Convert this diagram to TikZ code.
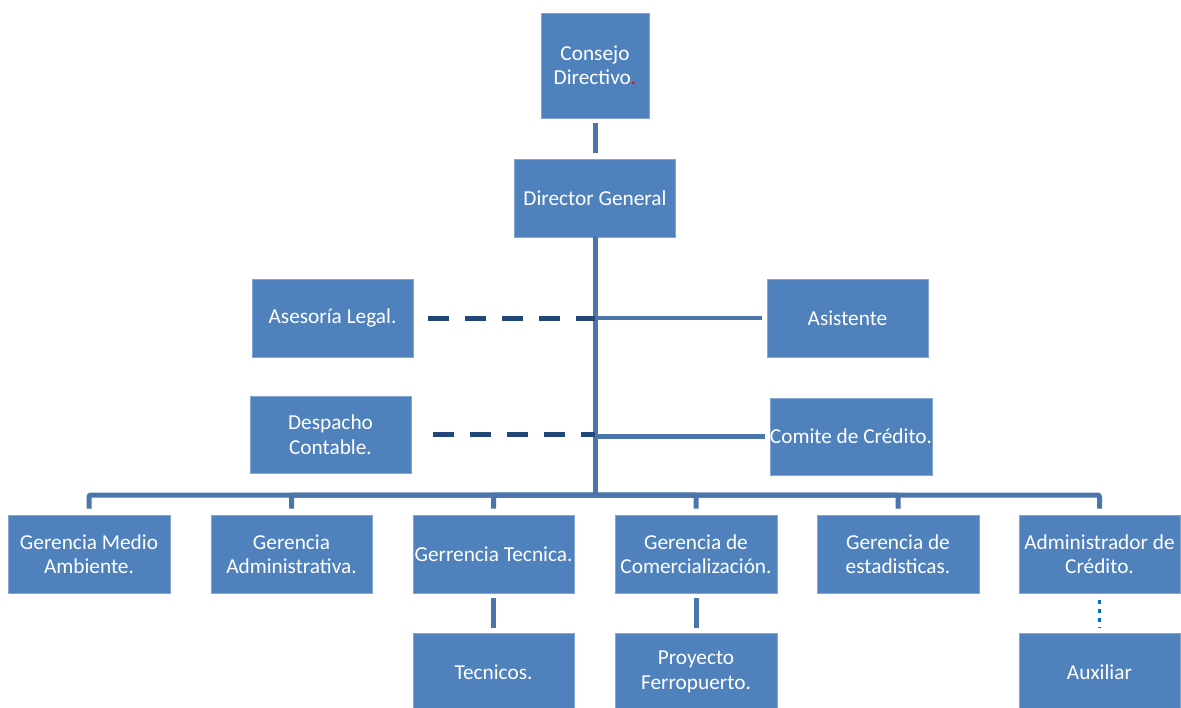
\documentclass[tikz,border=0pt]{standalone}
\usepackage{fontspec}
\setmainfont{Carlito}
\definecolor{boxblue}{RGB}{79,129,189}
\definecolor{linkblue}{RGB}{74,118,172}
\definecolor{navy}{RGB}{36,71,122}
\definecolor{dotblue}{RGB}{0,112,192}
\begin{document}
\begin{tikzpicture}[x=1pt,y=-1pt,
  box/.style={fill=boxblue,draw=boxblue!70!white,line width=0.6pt,text=white,align=center,
    inner sep=0pt,font=\fontsize{21.3}{24.5}\selectfont},
  conn/.style={draw=linkblue,line width=5pt,rounded corners=2pt},
  dashlink/.style={draw=navy,line width=5pt,dash pattern=on 21pt off 16pt},
  dotlink/.style={draw=dotblue,line width=3pt,dash pattern=on 4pt off 5pt}]
\useasboundingbox (0,0) rectangle (1181,707);
% top of the chart
\node[box,minimum width=108pt,minimum height=105pt] (cd) at (595,65.5) {Consejo\\Directivo{\color{red}.}};
\node[box,minimum width=161pt,minimum height=78pt] (dg) at (595,198) {Director General};
% staff units
\node[box,minimum width=161pt,minimum height=78pt] (al) at (332.5,318) {Asesoría Legal.};
\node[box,minimum width=161pt,minimum height=78pt] (as) at (847.5,318) {Asistente};
\node[box,minimum width=161pt,minimum height=77pt] (dc) at (330.5,434.5) {Despacho\\Contable.};
\node[box,minimum width=162pt,minimum height=77pt] (cc) at (851,436.5) {Comite de Crédito.};
% management row
\node[box,minimum width=162pt,minimum height=78pt] (g1) at (89,554) {Gerencia Medio\\Ambiente.};
\node[box,minimum width=161pt,minimum height=78pt] (g2) at (291.5,554) {Gerencia\\Administrativa.};
\node[box,minimum width=161pt,minimum height=78pt] (g3) at (493.5,554) {Gerrencia Tecnica.};
\node[box,minimum width=162pt,minimum height=78pt] (g4) at (696,554) {Gerencia de\\Comercialización.};
\node[box,minimum width=162pt,minimum height=78pt] (g5) at (898,554) {Gerencia de\\estadisticas.};
\node[box,minimum width=161pt,minimum height=78pt] (g6) at (1099.5,554) {Administrador de\\Crédito.};
% lower level (runs off the bottom edge of the page)
\node[box,minimum width=161pt,minimum height=78pt] (t) at (493.5,672) {Tecnicos.};
\node[box,minimum width=162pt,minimum height=78pt] (p) at (696,672) {Proyecto\\Ferropuerto.};
\node[box,minimum width=161pt,minimum height=78pt] (ax) at (1099.5,672) {Auxiliar};
\coordinate (bus) at (595,495);
% connectors
\draw[conn,shorten <=5pt,shorten >=6pt] (cd.south) -- (dg.north);
\draw[conn] (dg.south) -- (bus);
\foreach \g in {g1,g2,g3,g4,g5,g6}
  \draw[conn,shorten <=6pt] (\g.north) |- (bus);
\draw[conn,line width=4.5pt,shorten >=5pt] (dg.south |- as.west) -- (as.west);
\draw[conn,line width=4.5pt,shorten >=5pt] (dg.south |- cc.west) -- (cc.west);
\draw[dashlink,shorten <=15pt] (al.east) -- (dg.south |- al.east);
\draw[dashlink,shorten <=22pt] (dc.east) -- (dg.south |- dc.east);
\draw[conn,shorten <=5pt,shorten >=5pt] (g3.south) -- (t.north);
\draw[conn,shorten <=5pt,shorten >=5pt] (g4.south) -- (p.north);
\draw[dotlink,shorten <=7pt,shorten >=5pt] (g6.south) -- (ax.north);
\end{tikzpicture}
\end{document}
